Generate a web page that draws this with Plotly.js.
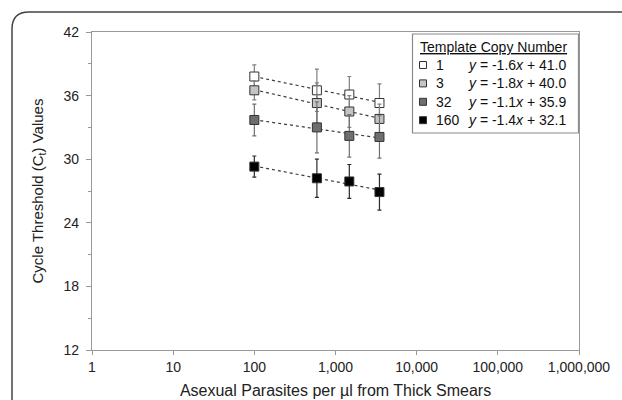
<!DOCTYPE html>
<html>
<head>
<meta charset="utf-8">
<script src="https://cdn.plot.ly/plotly-3.0.1.min.js"></script>
<style>html,body{margin:0;padding:0;background:#fff;}#chart{width:622px;height:400px;}</style>
</head>
<body>
<div id="chart"></div>
<script>
// Data
const parasites = [100, 590, 1480, 3480];
const seriesNames = ['1', '3', '32', '160'];
const equations = ['y = -1.6x + 41.0', 'y = -1.8x + 40.0', 'y = -1.1x + 35.9', 'y = -1.4x + 32.1'];
const ct_1   = [37.8, 36.5, 36.1, 35.3];
const ct_3   = [36.5, 35.3, 34.5, 33.8];
const ct_32  = [33.7, 33.0, 32.2, 32.1];
const ct_160 = [29.3, 28.2, 27.9, 26.9];
const err_1   = [1.1, 2.0, 1.7, 1.8];
const err_3   = [0.9, 1.9, 1.5, 1.4];
const err_32  = [1.5, 2.4, 2.0, 2.0];
const err_160 = [1.0, 1.8, 1.6, 1.7];
const xTickVals = [1, 10, 100, 1000, 10000, 100000, 1000000];
const xTickText = ['1', '10', '100', '1,000', '10,000', '100,000', '1,000,000'];
const legendTitle = 'Template Copy Number';

const allCt = [ct_1, ct_3, ct_32, ct_160];
const allErr = [err_1, err_3, err_32, err_160];
const fills = ['#ffffff', '#c4c4c4', '#6e6e6e', '#000000'];
const barColors = ['#808080', '#808080', '#707070', '#2a2a2a'];
const FONT = 'Liberation Sans, Arial, sans-serif';

const W = 622, H = 400, M = {l: 92, r: 43, t: 32, b: 50};
const PW = W - M.l - M.r, PH = H - M.t - M.b;
const px = v => (v - M.l) / PW;      // pixel x -> paper
const py = v => (H - M.b - v) / PH;  // pixel y -> paper

function fit(xs, ys) {
  const lx = xs.map(v => Math.log10(v));
  const n = lx.length;
  const mx = lx.reduce((a, b) => a + b, 0) / n;
  const my = ys.reduce((a, b) => a + b, 0) / n;
  let sxy = 0, sxx = 0;
  for (let i = 0; i < n; i++) { sxy += (lx[i] - mx) * (ys[i] - my); sxx += (lx[i] - mx) ** 2; }
  const m = sxy / sxx, b = my - m * mx;
  return v => m * Math.log10(v) + b;
}

const traces = [];
allCt.forEach((ys) => {
  const f = fit(parasites, ys);
  const xs = [parasites[0], parasites[parasites.length - 1]];
  traces.push({
    x: xs, y: xs.map(f), mode: 'lines', type: 'scatter', showlegend: false, hoverinfo: 'skip',
    line: {color: '#3a3a3a', width: 1.2, dash: 'dot'}
  });
});
allCt.forEach((ys, i) => {
  traces.push({
    x: parasites, y: ys, mode: 'markers', type: 'scatter', showlegend: false,
    name: seriesNames[i],
    marker: {symbol: 'square', size: 9, color: fills[i], line: {color: '#333333', width: 1}},
    error_y: {type: 'data', array: allErr[i], visible: true, color: barColors[i], thickness: 1.2, width: 2}
  });
});

// Legend built from shapes + annotations (layout only)
const shapes = [
  { type: 'rect', xref: 'paper', yref: 'paper', layer: 'above',
    x0: px(412.5), x1: px(578.5), y0: py(133), y1: py(34),
    fillcolor: '#ffffff', line: {color: '#8a8a8a', width: 1.2} },
  { type: 'path', xref: 'paper', yref: 'paper', layer: 'above',
    path: `M ${px(12)} ${py(420)} L ${px(12)} ${py(29)} Q ${px(12)} ${py(12)} ${px(29)} ${py(12)} L ${px(640)} ${py(12)}`,
    line: {color: '#444444', width: 1.5} }
];
const annotations = [
  { xref: 'paper', yref: 'paper', x: px(418), y: py(47), xanchor: 'left', yanchor: 'middle', showarrow: false,
    text: '<span style="text-decoration:underline">' + legendTitle + '</span>',
    font: {family: FONT, size: 14, color: '#111'} }
];
const rowY = [65, 83.4, 101.8, 120.2];
seriesNames.forEach((nm, i) => {
  shapes.push({ type: 'rect', xref: 'paper', yref: 'paper', layer: 'above',
    x0: px(419.5), x1: px(426.5), y0: py(rowY[i] + 3.5), y1: py(rowY[i] - 3.5),
    fillcolor: fills[i], line: {color: '#333', width: 1} });
  annotations.push({ xref: 'paper', yref: 'paper', x: px(434), y: py(rowY[i]), xanchor: 'left', yanchor: 'middle',
    showarrow: false, text: nm, font: {family: FONT, size: 14, color: '#111'} });
  annotations.push({ xref: 'paper', yref: 'paper', x: px(466), y: py(rowY[i]), xanchor: 'left', yanchor: 'middle',
    showarrow: false, text: equations[i].replace(/^y/, '<i>y</i>').replace(/x /, '<i>x</i> '),
    font: {family: FONT, size: 14, color: '#111'} });
});

const layout = {
  width: W, height: H,
  margin: M,
  paper_bgcolor: '#ffffff', plot_bgcolor: '#ffffff',
  font: {family: FONT, color: '#222222', size: 14},
  showlegend: false,
  xaxis: {
    type: 'log', range: [0, 6], tickvals: xTickVals, ticktext: xTickText,
    showgrid: false, zeroline: false, showline: true, linecolor: '#999999', linewidth: 1.2, mirror: true,
    ticks: 'outside', ticklen: 4, tickcolor: '#999999',
    tickfont: {family: FONT, size: 14, color: '#222'},
    title: {text: 'Asexual Parasites per µl from Thick Smears', font: {family: FONT, size: 16, color: '#222'}, standoff: 10}
  },
  yaxis: {
    range: [12, 42], tick0: 12, dtick: 6,
    showgrid: false, zeroline: false, showline: true, linecolor: '#999999', linewidth: 1.2, mirror: true,
    ticks: 'outside', ticklen: 5, tickcolor: '#999999', ticklabelstandoff: 4,
    minor: {dtick: 3, ticks: 'outside', ticklen: 3, tickcolor: '#999999', showgrid: false},
    tickfont: {family: FONT, size: 14, color: '#222'},
    title: {text: 'Cycle Threshold (C<sub>t</sub>) Values', font: {family: FONT, size: 15, color: '#222'}, standoff: 16}
  },
  shapes: shapes,
  annotations: annotations
};

Plotly.newPlot('chart', traces, layout, {displayModeBar: false, staticPlot: true});
</script>
</body>
</html>
